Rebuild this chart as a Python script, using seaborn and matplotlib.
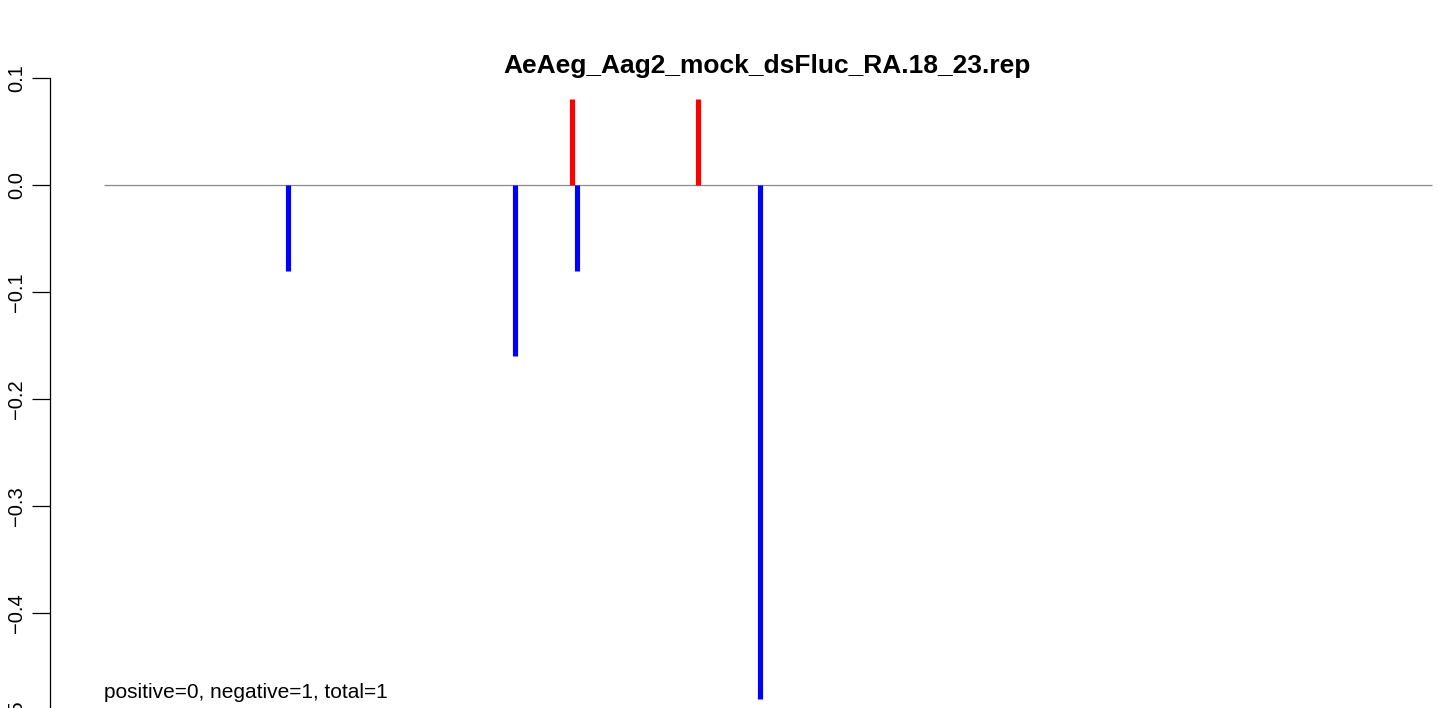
import numpy as np
import pandas as pd
import seaborn as sns
import matplotlib
matplotlib.use("Agg")
import matplotlib.pyplot as plt

# read positions / values from the reference
positions = [35.5, 78, 88.8, 89.7, 112.4, 124]
values = [-0.08, -0.16, 0.08, -0.08, 0.08, -0.48]
strand = ["neg", "neg", "pos", "neg", "pos", "neg"]
seq_len = 250
yticks = [0.1, 0.0, -0.1, -0.2, -0.3, -0.4, -0.5]
title = "AeAeg_Aag2_mock_dsFluc_RA.18_23.rep"
note = "positive=0, negative=1, total=1"

df = pd.DataFrame({"pos": positions, "value": values, "strand": strand})

sns.set_style("white")
plt.rcParams["font.family"] = ["Liberation Sans", "DejaVu Sans"]
plt.rcParams["text.color"] = "black"
plt.rcParams["ytick.color"] = "black"
plt.rcParams["axes.edgecolor"] = "black"

W, H = 1439, 708
fig = plt.figure(figsize=(W / 100, H / 100), dpi=100)

# axes placed in pixel terms: left at x=50, top at y=78 (0.1), 1070 px per unit
ymin, ymax = -0.52, 0.1
ax_h = (ymax - ymin) * 1070
ax = fig.add_axes([50 / W, (H - 78 - ax_h) / H, (W - 50) / W, ax_h / H])

xpp = 1328 / (seq_len - 1)
ax.set_xlim(1 - 54 / xpp, seq_len + 7 / xpp)
ax.set_ylim(ymin, ymax)

ax.hlines(0, 1, seq_len, color="#8a8a8a", lw=0.9, zorder=1)
palette = {"pos": "#ff0000", "neg": "#0000ff"}
for _, r in df.iterrows():
    ax.vlines(r["pos"], 0, r["value"], color=palette[r["strand"]], lw=3.7,
              capstyle="butt", zorder=2)

for s in ["top", "right", "bottom"]:
    ax.spines[s].set_visible(False)
ax.spines["left"].set_bounds(-0.5, 0.1)
ax.spines["left"].set_linewidth(0.9)
ax.set_xticks([])
ax.set_yticks(yticks)
ax.set_yticklabels([f"{t:.1f}".replace("-", "\u2212") for t in yticks],
                   rotation=90, va="center", fontsize=14.5)
ax.tick_params(axis="y", left=True, length=13, width=0.9, pad=4,
               labelcolor="black")

ax.text(1, -0.474, note, fontsize=15, ha="left", va="center")
fig.text(767 / W, 1 - 66 / H, title, fontsize=19, fontweight="bold",
         ha="center", va="center")

fig.savefig("out.png", dpi=100)
